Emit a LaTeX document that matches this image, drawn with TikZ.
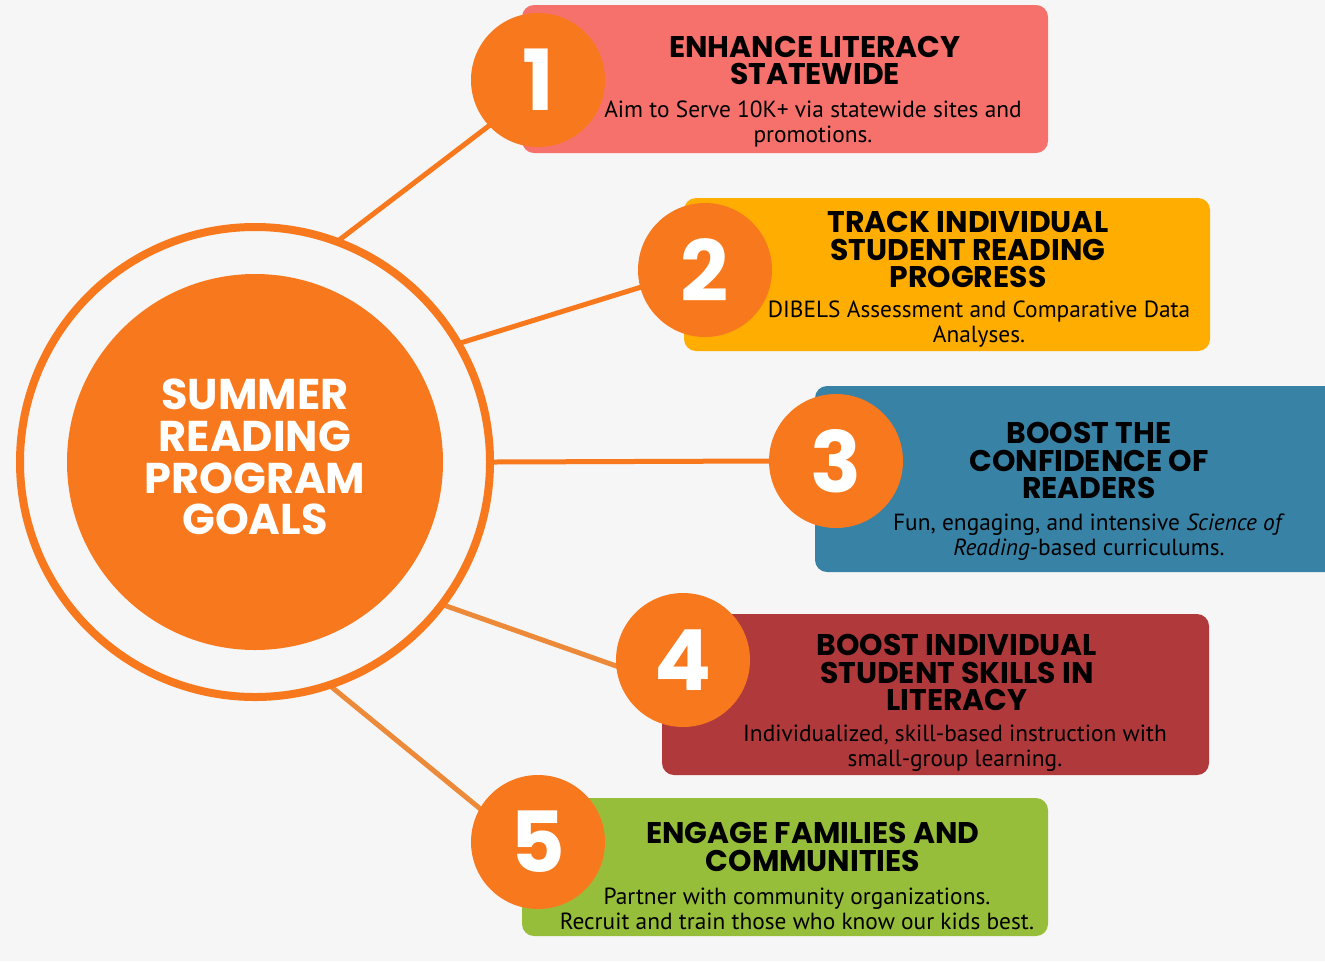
\documentclass[tikz,border=0pt]{standalone}
\usepackage{fontspec}
\setmainfont{PT Sans}
\newfontfamily\headfont{Poppins}
\usetikzlibrary{positioning, calc}

\definecolor{bgC}{HTML}{F6F6F6}
\definecolor{orangeC}{HTML}{F8791D}
\definecolor{linkC}{HTML}{EC8A3A}
\definecolor{salmonC}{HTML}{F7716C}
\definecolor{amberC}{HTML}{FFAD00}
\definecolor{tealC}{HTML}{3882A6}
\definecolor{brickC}{HTML}{B0393C}
\definecolor{limeC}{HTML}{97BE3B}

\pgfdeclarelayer{back}
\pgfdeclarelayer{links}
\pgfsetlayers{back,links,main}

\def\u{0.02cm}

\begin{document}
\begin{tikzpicture}[
    x=0.02cm, y=-0.02cm,
    ring/.style={circle, draw=orangeC, line width=8*\u, fill=bgC, minimum size=470*\u, inner sep=0pt},
    core/.style={circle, fill=orangeC, minimum size=376*\u, inner sep=0pt},
    coretext/.style={text=white, align=center, inner sep=0pt, font=\headfont\bfseries\fontsize{24.5}{23.8}\selectfont},
    numnode/.style={circle, fill=orangeC, minimum size=134*\u, inner sep=0pt, text=white, font=\headfont\bfseries\fontsize{48}{48}\selectfont},
    goalbox/.style={rounded corners=0.24cm, inner sep=0pt},
    goaltitle/.style={align=center, inner sep=0pt, font=\headfont\bfseries\fontsize{17}{15.6}\selectfont},
    goaldesc/.style={align=center, inner sep=0pt, font=\fontsize{13.3}{14.2}\selectfont},
    link/.style={draw=orangeC, line width=5*\u, shorten >=-4pt, shorten <=-4pt}
]
    \begin{pgfonlayer}{back}
      \fill[bgC] (0,0) rectangle (1325,961);
    \end{pgfonlayer}
    \clip (0,0) rectangle (1325,961);

    % hub
    \node[ring] (hub)  at (255,462) {};
    \node[core] (core) at (255,462) {};
    \node[coretext] (title) at (255,457) {SUMMER\\READING\\PROGRAM\\GOALS};

    % goal boxes
    \node[goalbox, fill=salmonC, minimum width=526*\u, minimum height=148*\u] (B1) at (785,79)   {};
    \node[goalbox, fill=amberC,  minimum width=526*\u, minimum height=153*\u] (B2) at (947,274.5) {};
    \node[goalbox, fill=tealC,   minimum width=540*\u, minimum height=186*\u] (B3) at (1085,479) {};
    \node[goalbox, fill=brickC,  minimum width=547*\u, minimum height=161*\u] (B4) at (935.5,694.5) {};
    \node[goalbox, fill=limeC,   minimum width=526*\u, minimum height=138*\u] (B5) at (785,867) {};

    \node[numnode] (N1) at (538,80)  {1};
    \node[numnode] (N2) at (705,270) {2};
    \node[numnode] (N3) at (836,461) {3};
    \node[numnode] (N4) at (683,660) {4};
    \node[numnode] (N5) at (538,842) {5};

    \node[goaltitle] (T1) at (815,60.5)  {ENHANCE LITERACY\\STATEWIDE};
    \node[goaldesc]  (D1) at (813,124)   {Aim to Serve 10K+ via statewide sites and\\promotions.};
    \node[goaltitle] (T2) at (968,249.5) {TRACK INDIVIDUAL\\STUDENT READING\\PROGRESS};
    \node[goaldesc]  (D2) at (979,324)   {DIBELS Assessment and Comparative Data\\Analyses.};
    \node[goaltitle] (T3) at (1089,460.5) {BOOST THE\\CONFIDENCE OF\\READERS};
    \node[goaldesc]  (D3) at (1089,537)  {Fun, engaging, and intensive \textit{Science of}\\\textit{Reading}-based curriculums.};
    \node[goaltitle] (T4) at (957,672.5) {BOOST INDIVIDUAL\\STUDENT SKILLS IN\\LITERACY};
    \node[goaldesc]  (D4) at (955,748)   {Individualized, skill-based instruction with\\small-group learning.};
    \node[goaltitle] (T5) at (813,847)   {ENGAGE FAMILIES AND\\COMMUNITIES};
    \node[goaldesc]  (D5) at (797,909)   {Partner with community organizations.\\Recruit and train those who know our kids best.};

    % spokes
    \begin{pgfonlayer}{links}
      \draw[link] (hub.69)  -- (N1.223);
      \draw[link] (hub.30)  -- (N2.195);
      \draw[link] (hub.0)   -- (N3.180);
      \draw[link, draw=linkC] (hub.-37) -- (N4.185);
      \draw[link, draw=linkC] (hub.-71) -- (N5.150);
    \end{pgfonlayer}
\end{tikzpicture}
\end{document}
